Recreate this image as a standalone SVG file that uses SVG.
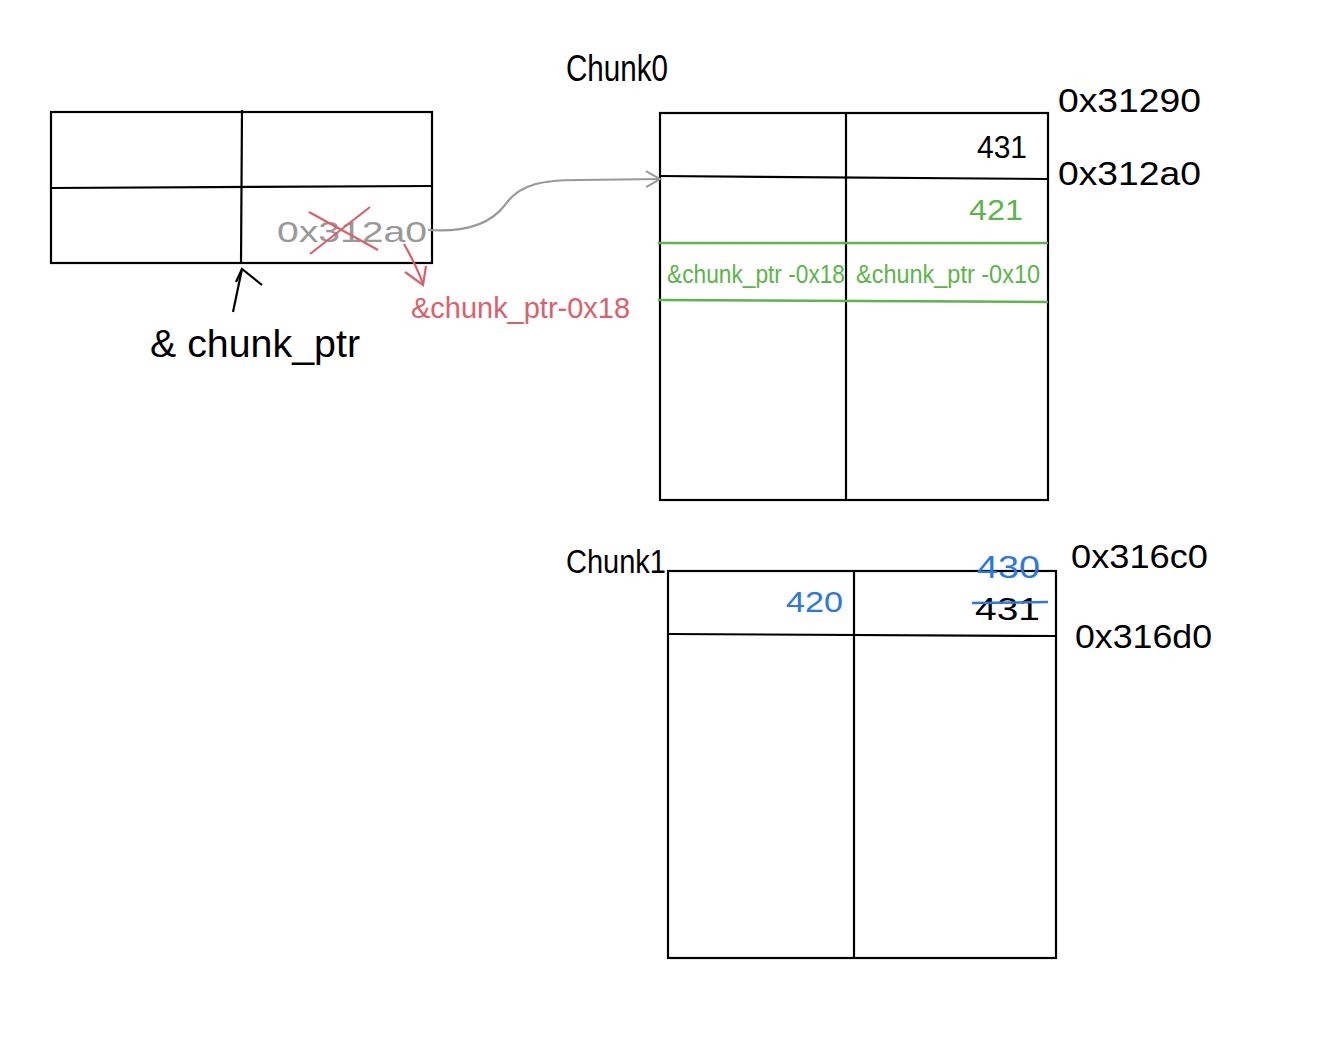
<svg xmlns="http://www.w3.org/2000/svg" width="1341" height="1045" viewBox="0 0 1341 1045">
<style>
.ln{stroke:#000;stroke-width:2.2;fill:none}
.t{font-family:"Liberation Sans","DejaVu Sans",sans-serif}
.k{fill:#000}
.gray{fill:#999}
.red{fill:#d9626a}
.grn{fill:#5cb54a}
.blu{fill:#2a78e0}
</style>
<defs>
<marker id="open" markerWidth="20" markerHeight="20" refX="16" refY="10" orient="auto" markerUnits="userSpaceOnUse">
<path d="M2,2 L16,10 L2,18" fill="none" stroke="#999" stroke-width="2"/>
</marker>
</defs>
<rect width="1341" height="1045" fill="#fff"/>

<g id="left-table">
<rect class="ln" x="51" y="112" width="381" height="151"/>
<line class="ln" x1="242" y1="110" x2="241" y2="263"/>
<line class="ln" x1="51" y1="188" x2="432" y2="186"/>
<text class="t gray" x="277" y="242" font-size="30" textLength="150" lengthAdjust="spacingAndGlyphs">0x312a0</text>
<line x1="310" y1="254" x2="370" y2="207" stroke="#d9626a" stroke-width="2.2"/>
<line x1="309" y1="212" x2="378" y2="250" stroke="#d9626a" stroke-width="2.2"/>
</g>

<g id="chunk-ptr-label">
<text class="t k" x="150" y="357" font-size="38" textLength="210" lengthAdjust="spacingAndGlyphs">&amp; chunk_ptr</text>
</g>

<g id="red-label">
<text class="t red" x="411" y="318" font-size="30" textLength="219" lengthAdjust="spacingAndGlyphs">&amp;chunk_ptr-0x18</text>
</g>

<g id="chunk0">
<text class="t k" x="566" y="81" font-size="36" textLength="102" lengthAdjust="spacingAndGlyphs">Chunk0</text>
<rect class="ln" x="660" y="113" width="388" height="387"/>
<line class="ln" x1="846" y1="113" x2="846" y2="500"/>
<line class="ln" x1="660" y1="176" x2="1048" y2="179"/>
<line x1="658" y1="243" x2="1048" y2="243" stroke="#5cb54a" stroke-width="2.5"/>
<line x1="658" y1="300" x2="1048" y2="302" stroke="#5cb54a" stroke-width="2.5"/>
<text class="t k" x="977" y="158" font-size="32" textLength="50" lengthAdjust="spacingAndGlyphs">431</text>
<text class="t grn" x="969" y="220" font-size="30" textLength="54" lengthAdjust="spacingAndGlyphs">421</text>
<text class="t grn" x="667" y="283" font-size="25" textLength="178" lengthAdjust="spacingAndGlyphs">&amp;chunk_ptr -0x18</text>
<text class="t grn" x="856" y="283" font-size="25" textLength="184" lengthAdjust="spacingAndGlyphs">&amp;chunk_ptr -0x10</text>
<text class="t k" x="1058" y="112" font-size="34" textLength="143" lengthAdjust="spacingAndGlyphs">0x31290</text>
<text class="t k" x="1058" y="185" font-size="34" textLength="143" lengthAdjust="spacingAndGlyphs">0x312a0</text>
</g>

<g id="chunk1">
<text class="t k" x="566" y="573" font-size="34" textLength="100" lengthAdjust="spacingAndGlyphs">Chunk1</text>
<rect class="ln" x="668" y="571" width="388" height="387"/>
<line class="ln" x1="854" y1="571" x2="854" y2="958"/>
<line class="ln" x1="668" y1="634" x2="1056" y2="636"/>
<text class="t blu" x="786" y="612" font-size="30" textLength="57" lengthAdjust="spacingAndGlyphs">420</text>
<text class="t blu" x="977" y="578" font-size="32" textLength="63" lengthAdjust="spacingAndGlyphs">430</text>
<text class="t k" x="975" y="620" font-size="32" textLength="65" lengthAdjust="spacingAndGlyphs">431</text>
<line x1="972" y1="603" x2="1048" y2="602" stroke="#2a78e0" stroke-width="2.5"/>
<text class="t k" x="1071" y="568" font-size="34" textLength="137" lengthAdjust="spacingAndGlyphs">0x316c0</text>
<text class="t k" x="1075" y="648" font-size="34" textLength="137" lengthAdjust="spacingAndGlyphs">0x316d0</text>
</g>

<g id="connectors">
<path d="M428,230 C470,233 492,222 505,205 C520,183 545,180 580,180 L660,179" fill="none" stroke="#999" stroke-width="2.2" marker-end="url(#open)"/>
<path d="M404,244 C412,258 418,270 423,284" fill="none" stroke="#d9626a" stroke-width="2.2"/>
<path d="M405,272 L423,285 L426,266" fill="none" stroke="#d9626a" stroke-width="2.2"/>
<path d="M233,312 L242,269" fill="none" stroke="#000" stroke-width="2.2"/>
<path d="M236,282 L242,269 L262,285" fill="none" stroke="#000" stroke-width="2.2"/>
</g>
</svg>
